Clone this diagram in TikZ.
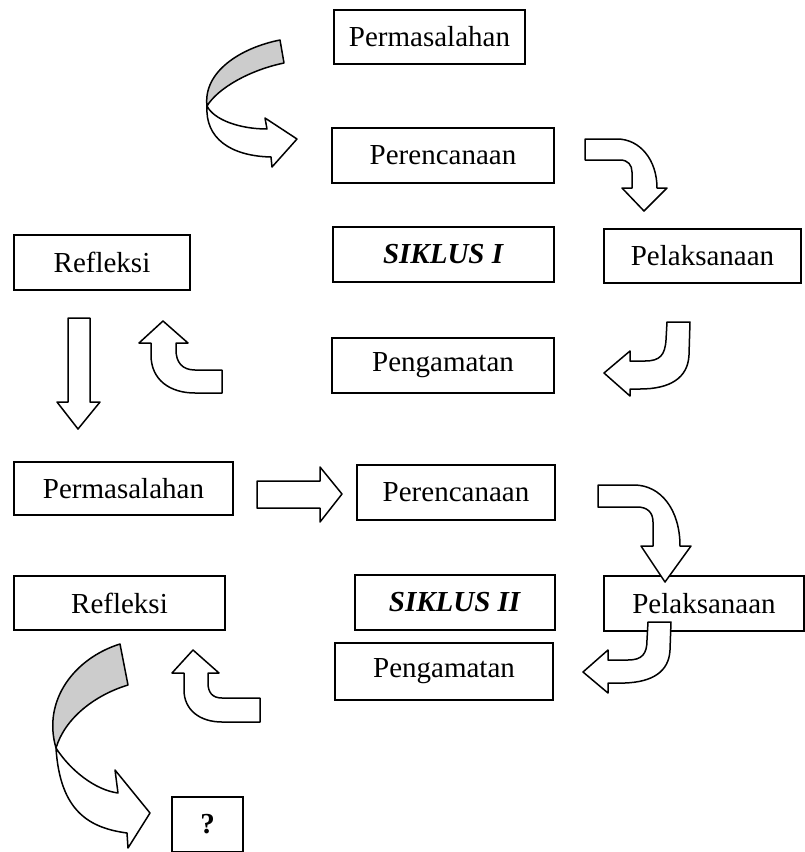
\documentclass[tikz,border=0pt]{standalone}
\usepackage{fontspec}
\setmainfont{Liberation Serif}
\begin{document}
\begin{tikzpicture}[x=1pt,y=-1pt,
  box/.style={draw, line width=1.5pt, inner sep=0pt, font=\fontsize{29}{34}\selectfont},
  barrow/.style={draw, line width=1.5pt, fill=white, line join=round},
  gribbon/.style={draw, line width=1.5pt, fill=black!20, line join=round}]
\useasboundingbox (0,0) rectangle (804,852);
% boxes
\node[box, minimum width=191, minimum height=54] (pa) at (429.5,37) {Permasalahan};
\node[box, minimum width=222, minimum height=55] (ra) at (443,155.5) {Perencanaan};
\node[box, minimum width=221, minimum height=55] (sa) at (443.5,254.5) {\textbf{\textit{SIKLUS I}}};
\node[box, minimum width=197, minimum height=54] (la) at (702.5,256) {Pelaksanaan};
\node[box, minimum width=176, minimum height=55] (fa) at (102,262.5) {Refleksi};
\node[box, minimum width=222, minimum height=55] (ga) at (443,365.5) {Pengamatan};
\node[box, minimum width=219, minimum height=53] (pb) at (123.5,488.5) {Permasalahan};
\node[box, minimum width=198, minimum height=55] (rb) at (456,492.5) {Perencanaan};
\node[box, minimum width=211, minimum height=54] (fb) at (119.5,603) {Refleksi};
\node[box, minimum width=200, minimum height=55] (sb) at (455,602.5) {\textbf{\textit{SIKLUS II}}};
\node[box, minimum width=200, minimum height=55] (lb) at (704,603.5) {Pelaksanaan};
\node[box, minimum width=218, minimum height=57] (gb) at (444,671.5) {Pengamatan};
\node[box, minimum width=71, minimum height=55] (q) at (207.5,824.5) {\textbf{?}};
% top curved ribbon
\draw[gribbon] (280,40) .. controls (240,48) and (203,72) .. (207,106)
  .. controls (218,88) and (250,70) .. (284,63) -- cycle;
\draw[barrow] (207,106) .. controls (214,120) and (240,129) .. (267,129)
  -- (265,118) -- (297,139) -- (272,167) -- (271,157)
  .. controls (230,156) and (205,138) .. (207,106) -- cycle;
% Perencanaan -> Pelaksanaan
\draw[barrow] (585,139) -- (617,139) .. controls (640,139) and (657,160) .. (657,188)
  -- (667,188) -- (644,211) -- (622,188) -- (632,188) -- (632,172)
  .. controls (632,165) and (628,160) .. (620,160) -- (585,160) -- cycle;
% Pelaksanaan -> Pengamatan
\draw[barrow] (667,322) -- (690,322) -- (689,355) .. controls (688,378) and (670,389) .. (640,389)
  -- (630,389) -- (630,396) -- (604,373) -- (630,351) -- (630,361) -- (645,361)
  .. controls (660,361) and (665,355) .. (666,340) -- cycle;
% Pengamatan -> Refleksi
\draw[barrow] (222,370) -- (195,370) .. controls (182,370) and (176,362) .. (176,350)
  -- (176,343) -- (188,343) -- (163,321) -- (139,343) -- (151,343) -- (151,355)
  .. controls (151,380) and (170,393) .. (195,393) -- (222,393) -- cycle;
% Refleksi -> Permasalahan (down)
\draw[barrow] (68,318) -- (90,318) -- (90,402) -- (100,402) -- (78,429) -- (57,402) -- (68,402) -- cycle;
% Permasalahan -> Perencanaan (right)
\draw[barrow] (257,481) -- (320,481) -- (320,467) -- (342,494) -- (320,522) -- (320,508) -- (257,508) -- cycle;
% Perencanaan2 -> Pelaksanaan2
\draw[barrow] (598,485) -- (634,485) .. controls (661,485) and (680,510) .. (680,546)
  -- (691,546) -- (665,582) -- (641,546) -- (653,546) -- (653,522)
  .. controls (653,512) and (647,507) .. (637,507) -- (598,507) -- cycle;
% Pelaksanaan2 -> Pengamatan2
\draw[barrow] (648,622) -- (671,622) -- (670,650) .. controls (669,672) and (652,682) .. (625,683)
  -- (608,683) -- (608,693) -- (583,672) -- (608,650) -- (608,660) -- (628,660)
  .. controls (642,660) and (647,654) .. (647,640) -- cycle;
% Pengamatan2 -> Refleksi2
\draw[barrow] (260,698) -- (222,698) .. controls (212,698) and (208,692) .. (208,683)
  -- (208,673) -- (219,673) -- (193,650) -- (172,673) -- (184,673) -- (184,690)
  .. controls (184,710) and (200,722) .. (222,722) -- (260,722) -- cycle;
% bottom curved ribbon
\draw[gribbon] (120,644) .. controls (75,658) and (42,700) .. (56,748)
  .. controls (65,718) and (95,695) .. (128,685) -- cycle;
\draw[barrow] (56,748) .. controls (70,770) and (95,790) .. (118,793)
  -- (115,770) -- (150,813) -- (128,848) -- (127,833)
  .. controls (90,828) and (60,812) .. (56,748) -- cycle;
\end{tikzpicture}
\end{document}
